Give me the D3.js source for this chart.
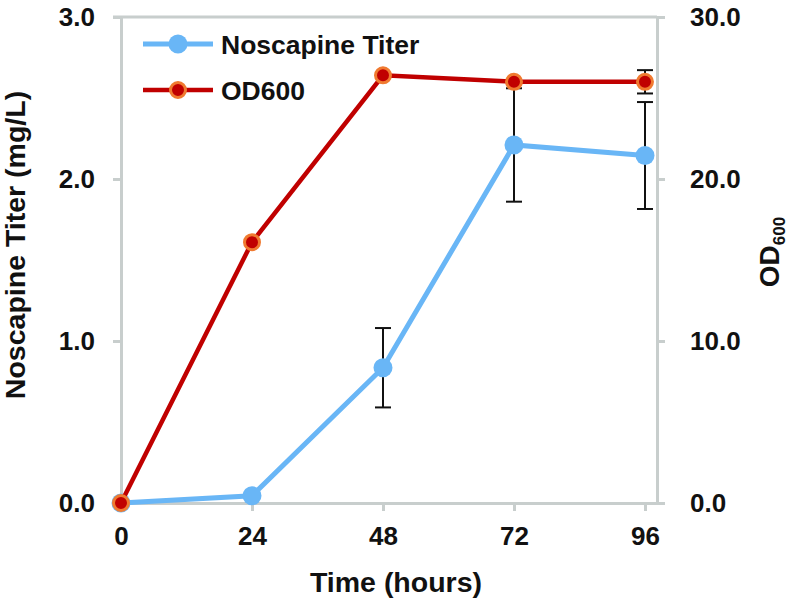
<!DOCTYPE html>
<html><head><meta charset="utf-8">
<script src="https://cdn.jsdelivr.net/npm/d3@7"></script>
<style>body{margin:0;background:#fff}svg{display:block}text{font-family:"Liberation Sans",Arial,sans-serif;font-weight:bold;fill:#111}</style>
</head><body><svg id="c" width="796" height="607"></svg>
<script>
const hours = [0, 24, 48, 72, 96];
const titer = [0.0, 0.045, 0.835, 2.21, 2.145];
const titerErr = [0, 0, 0.245, 0.35, 0.33];
const od = [0.0, 16.1, 26.4, 26.0, 26.0];
const odErr = [0, 0, 0, 0, 0.72];
const titerTicks = [0, 1, 2, 3];
const odTicks = [0, 10, 20, 30];
const xTicks = [0, 24, 48, 72, 96];

const svg = d3.select("#c");
const gray = "#c8cecd";
const blue = "#69b6f6", red = "#c00000", orange = "#f07a30";
const x = d3.scaleLinear().domain([0, 98.2]).range([121, 657]);
const yL = d3.scaleLinear().domain([0, 3]).range([503, 17]);
const yR = d3.scaleLinear().domain([0, 30]).range([503, 17]);

function styleAxis(g){
  g.selectAll("path,line").attr("stroke", gray).attr("stroke-width", 3);
  g.selectAll("text").attr("font-size", 26).attr("fill", "#111").style("font-family","'Liberation Sans',Arial,sans-serif").style("font-weight","bold");
}
// top gridline
svg.append("line").attr("x1", x(0)-8).attr("x2", x(98.2)).attr("y1", yL(3)).attr("y2", yL(3)).attr("stroke", gray).attr("stroke-width", 3);

const gL = svg.append("g").attr("transform", `translate(${x(0)},0)`)
  .call(d3.axisLeft(yL).tickValues(titerTicks).tickFormat(d3.format(".1f")).tickSize(8).tickSizeOuter(0).tickPadding(18));
styleAxis(gL);
const gR = svg.append("g").attr("transform", `translate(${x(98.2)},0)`)
  .call(d3.axisRight(yR).tickValues(odTicks).tickFormat(d3.format(".1f")).tickSize(8).tickSizeOuter(0).tickPadding(25));
styleAxis(gR);
const gB = svg.append("g").attr("transform", `translate(0,${yL(0)})`)
  .call(d3.axisBottom(x).tickValues(xTicks).tickSize(8).tickSizeOuter(0).tickPadding(16));
styleAxis(gB);
gB.selectAll(".tick").filter(d => d === 0).select("line").remove();

// error bars
const eb = svg.append("g").attr("stroke", "#111").attr("stroke-width", 2);
function errBar(cx, y1, y2){
  eb.append("line").attr("x1", cx).attr("x2", cx).attr("y1", y1).attr("y2", y2);
  eb.append("line").attr("x1", cx-8).attr("x2", cx+8).attr("y1", y1).attr("y2", y1);
  eb.append("line").attr("x1", cx-8).attr("x2", cx+8).attr("y1", y2).attr("y2", y2);
}
hours.forEach((h, i) => {
  if (titerErr[i] > 0) errBar(x(h), yL(titer[i] - titerErr[i]), yL(titer[i] + titerErr[i]));
  if (odErr[i] > 0) errBar(x(h), yR(od[i] - odErr[i]), yR(od[i] + odErr[i]));
});

// titer line
const tData = hours.map((h, i) => [h, titer[i]]);
svg.append("path").datum(tData).attr("fill", "none").attr("stroke", blue).attr("stroke-width", 5)
  .attr("d", d3.line().x(d => x(d[0])).y(d => yL(d[1])));
svg.append("g").selectAll("circle").data(tData).join("circle")
  .attr("cx", d => x(d[0])).attr("cy", d => yL(d[1])).attr("r", 9.5).attr("fill", blue);

// od line
const oData = hours.map((h, i) => [h, od[i]]);
svg.append("path").datum(oData).attr("fill", "none").attr("stroke", red).attr("stroke-width", 4.5)
  .attr("d", d3.line().x(d => x(d[0])).y(d => yR(d[1])));
svg.append("g").selectAll("circle").data(oData).join("circle")
  .attr("cx", d => x(d[0])).attr("cy", d => yR(d[1])).attr("r", 7.5).attr("fill", red)
  .attr("stroke", orange).attr("stroke-width", 3);

// legend
const lg = svg.append("g");
lg.append("line").attr("x1", 143).attr("x2", 213).attr("y1", 44).attr("y2", 44).attr("stroke", blue).attr("stroke-width", 5);
lg.append("circle").attr("cx", 178).attr("cy", 44).attr("r", 9.5).attr("fill", blue);
lg.append("text").attr("x", 221).attr("y", 44).attr("dy", "0.36em").attr("font-size", 26.5).text("Noscapine Titer");
lg.append("line").attr("x1", 143).attr("x2", 213).attr("y1", 90).attr("y2", 90).attr("stroke", red).attr("stroke-width", 4.5);
lg.append("circle").attr("cx", 178).attr("cy", 90).attr("r", 7.5).attr("fill", red).attr("stroke", orange).attr("stroke-width", 3);
lg.append("text").attr("x", 221).attr("y", 90).attr("dy", "0.36em").attr("font-size", 26.5).text("OD600");

// axis titles
svg.append("text").attr("x", 396).attr("y", 592).attr("text-anchor", "middle").attr("font-size", 28.5).text("Time (hours)");
svg.append("text").attr("transform", `translate(25,245) rotate(-90)`).attr("text-anchor", "middle").attr("font-size", 28.5).text("Noscapine Titer (mg/L)");
const rt = svg.append("text").attr("transform", `translate(779,252) rotate(-90)`).attr("text-anchor", "middle").attr("font-size", 28);
rt.append("tspan").text("OD");
rt.append("tspan").attr("font-size", 17).attr("dy", 6).text("600");
</script></body></html>
